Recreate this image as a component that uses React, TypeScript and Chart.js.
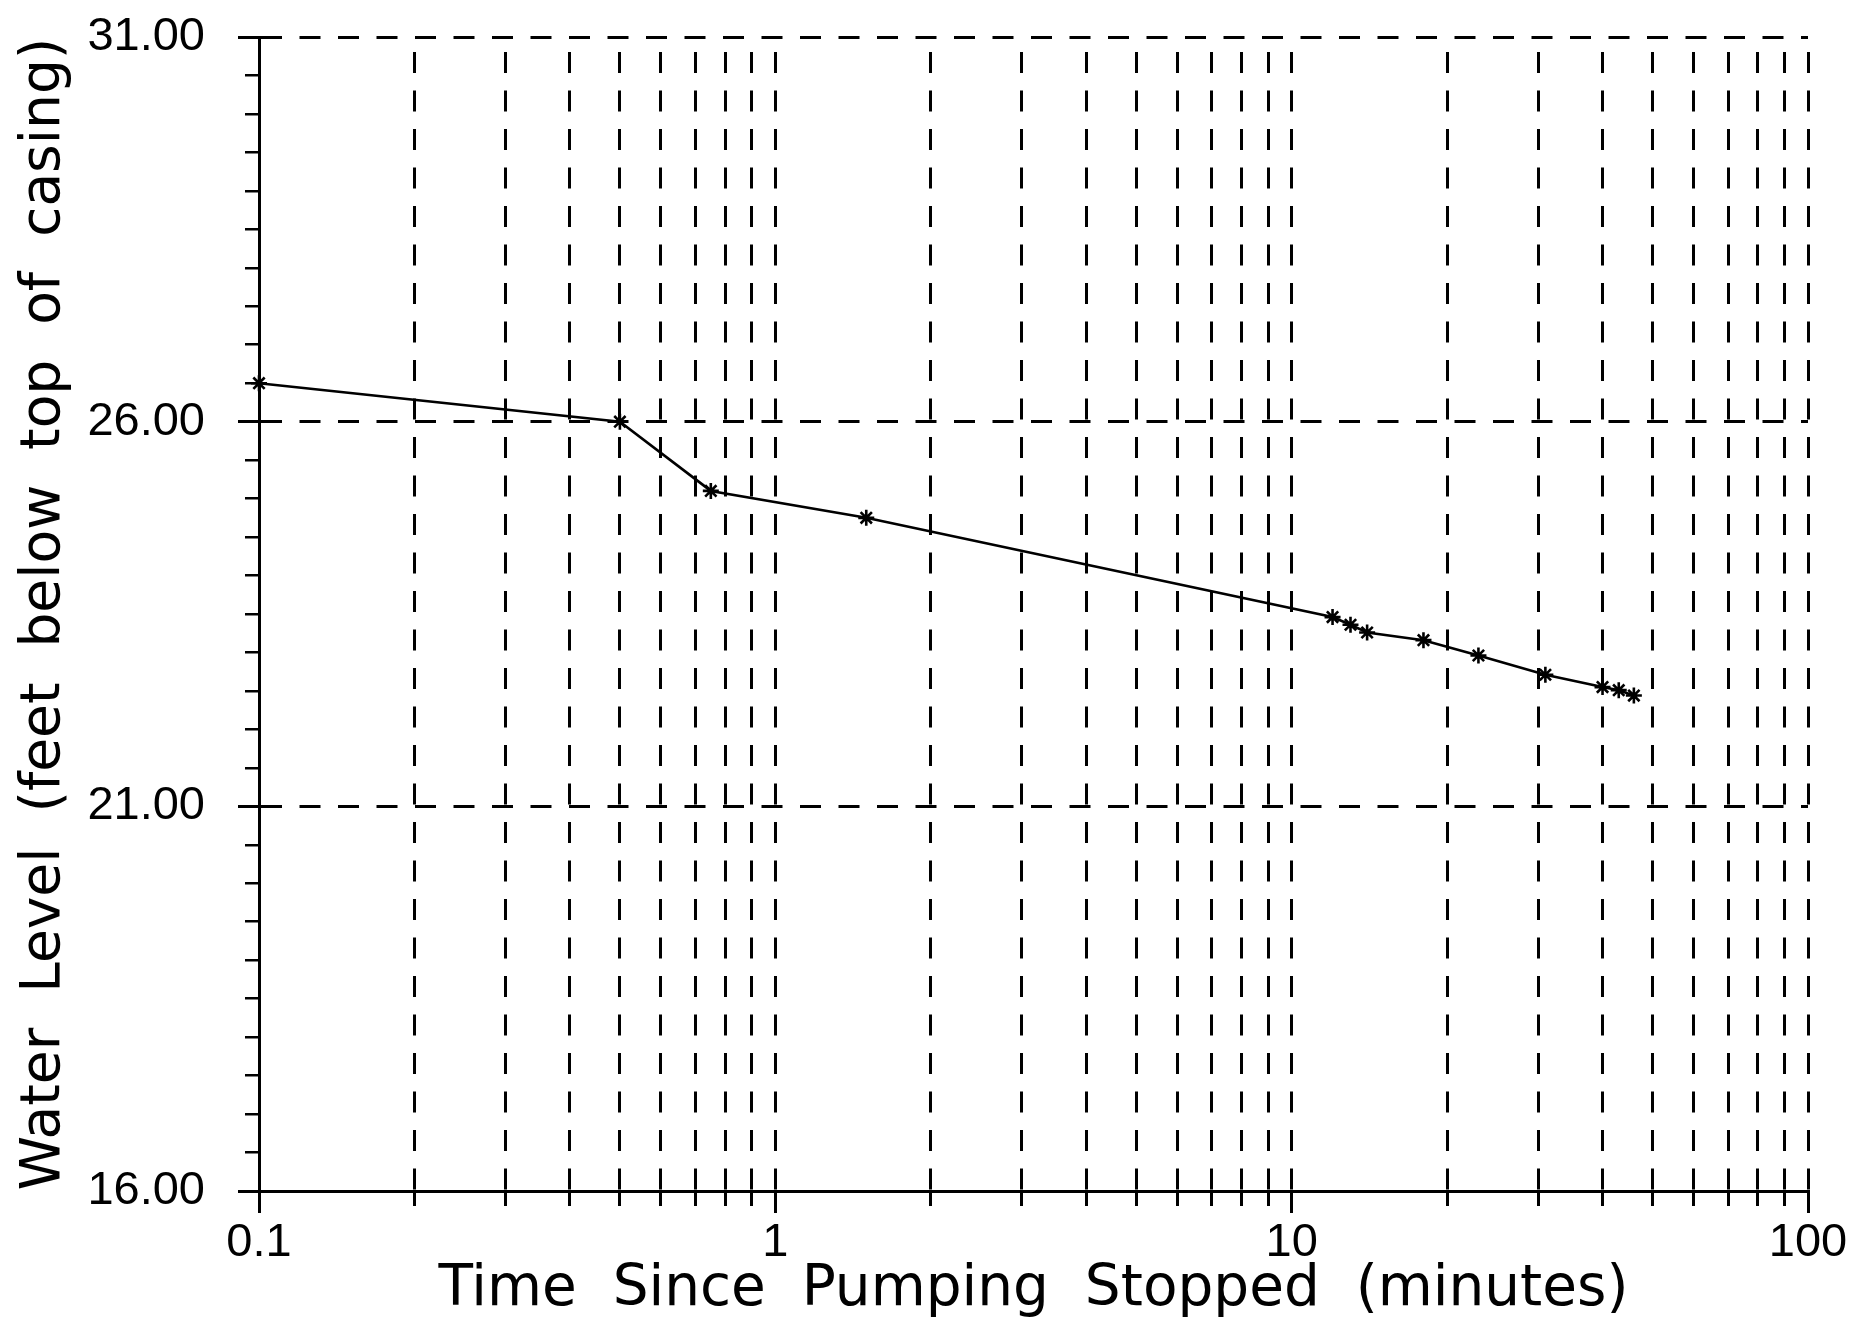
import React, { useEffect, useRef } from "react";
import { Chart, registerables } from "chart.js";

Chart.register(...registerables);

// ---- data ----
const TIME_MIN = [0.1, 0.5, 0.75, 1.5, 12, 13, 14, 18, 23, 31, 40, 43, 46];
const WATER_LEVEL = [26.5, 26.0, 25.1, 24.75, 23.46, 23.36, 23.26, 23.16, 22.96, 22.71, 22.55, 22.51, 22.44];

// ---- axes ----
const X_GRID_TICKS = [
  0.1, 0.2, 0.3, 0.4, 0.5, 0.6, 0.7, 0.8, 0.9,
  1, 2, 3, 4, 5, 6, 7, 8, 9,
  10, 20, 30, 40, 50, 60, 70, 80, 90,
  100,
];
const X_MAJOR_TICKS = [0.1, 1, 10, 100];
const X_MAJOR_LABELS = ["0.1", "1", "10", "100"];
const Y_MAJOR_TICKS = [16, 21, 26, 31];
const Y_MINOR_STEP = 0.5;
const X_MIN = 0.1;
const X_MAX = 100;
const Y_MIN = 16;
const Y_MAX = 31;
const X_TITLE = "Time  Since  Pumping  Stopped  (minutes)";
const Y_TITLE = "Water  Level  (feet  below  top  of  casing)";

// ---- layout / style ----
const W = 1865;
const H = 1321;
const AREA = { left: 259, top: 37, right: 1808, bottom: 1191 };
const DASH = [21, 17.5];
const INK = "#000";
const TICK_FONT = { family: "'Liberation Sans', Arial, sans-serif", size: 47 };
const X_TITLE_FONT = { family: "'DejaVu Sans', sans-serif", size: 56.5 };
const Y_TITLE_FONT = { family: "'DejaVu Sans', sans-serif", size: 55 };

export default function App() {
  const ref = useRef<HTMLCanvasElement | null>(null);

  useEffect(() => {
    if (!ref.current) return;
    const period = DASH[0] + DASH[1];
    const gridLen = AREA.bottom - AREA.top - 1.5;
    const vOffset = (((DASH[0] - gridLen) % period) + period) % period;

    const chart = new Chart(ref.current, {
      type: "line",
      data: {
        datasets: [
          {
            data: TIME_MIN.map((t, i) => ({ x: t, y: WATER_LEVEL[i] })),
            borderColor: INK,
            borderWidth: 2.6,
            tension: 0,
            fill: false,
            pointStyle: "star",
            pointRadius: 8,
            pointBorderWidth: 2.6,
            pointBorderColor: INK,
            pointBackgroundColor: INK,
            clip: false,
            xAxisID: "x",
            yAxisID: "y",
          } as any,
        ],
      },
      options: {
        responsive: false,
        animation: false,
        devicePixelRatio: 1,
        layout: {
          autoPadding: false,
          padding: { left: 0, top: AREA.top, right: W - AREA.right, bottom: 0 },
        } as any,
        plugins: {
          legend: { display: false },
          tooltip: { enabled: false },
        },
        scales: {
          x: {
            type: "logarithmic",
            position: "bottom",
            weight: 0,
            min: X_MIN,
            max: X_MAX,
            afterBuildTicks: (s: any) => {
              s.ticks = X_GRID_TICKS.map((v) => ({ value: v }));
            },
            afterFit: (s: any) => {
              s.height = 0;
              s.paddingLeft = 0;
              s.paddingRight = 0;
            },
            ticks: { display: false },
            grid: {
              color: INK,
              lineWidth: 3,
              tickLength: 15,
              tickWidth: 3,
              drawOnChartArea: true,
            },
            border: { display: true, color: INK, width: 3, dash: DASH, dashOffset: vOffset },
          } as any,
          xMajor: {
            type: "logarithmic",
            position: "bottom",
            weight: 1,
            min: X_MIN,
            max: X_MAX,
            afterBuildTicks: (s: any) => {
              s.ticks = X_MAJOR_TICKS.map((v) => ({ value: v }));
            },
            afterFit: (s: any) => {
              s.height = H - AREA.bottom;
              s.paddingLeft = 0;
              s.paddingRight = 0;
            },
            ticks: {
              color: INK,
              font: TICK_FONT,
              padding: 2,
              maxRotation: 0,
              minRotation: 0,
              autoSkip: false,
              callback: (_v: any, i: number) => X_MAJOR_LABELS[i],
            },
            grid: { drawOnChartArea: false, color: INK, lineWidth: 3, tickLength: 22 },
            border: { display: false },
            title: {
              display: true,
              text: X_TITLE,
              color: INK,
              font: X_TITLE_FONT,
              padding: { top: 0, bottom: -3 },
            },
          } as any,
          y: {
            type: "linear",
            position: "left",
            weight: 1,
            min: Y_MIN,
            max: Y_MAX,
            afterBuildTicks: (s: any) => {
              s.ticks = Y_MAJOR_TICKS.map((v) => ({ value: v }));
            },
            afterFit: (s: any) => {
              s.width = AREA.left;
              s.paddingTop = 0;
              s.paddingBottom = 0;
            },
            ticks: {
              color: INK,
              font: TICK_FONT,
              padding: 33,
              callback: (v: any) => Number(v).toFixed(2),
            },
            grid: { color: INK, lineWidth: 3, tickLength: 21 },
            border: { display: true, color: INK, width: 3, dash: DASH, dashOffset: 0 },
            title: {
              display: true,
              text: Y_TITLE,
              color: INK,
              font: Y_TITLE_FONT,
              padding: { top: 12, bottom: 0 },
            },
          } as any,
          yMinor: {
            type: "linear",
            position: "left",
            weight: 0,
            min: Y_MIN,
            max: Y_MAX,
            afterFit: (s: any) => {
              s.width = 0;
              s.paddingTop = 0;
              s.paddingBottom = 0;
            },
            ticks: { display: false, stepSize: Y_MINOR_STEP, maxTicksLimit: 1000 },
            grid: { drawOnChartArea: false, color: INK, lineWidth: 2.5, tickLength: 14 },
            border: { display: false },
          } as any,
        },
      },
    });
    return () => chart.destroy();
  }, []);

  return (
    <div style={{ position: "absolute", left: 0, top: 0, width: W, height: H, background: "#fff" }}>
      <canvas ref={ref} width={W} height={H} style={{ display: "block", width: W, height: H }} />
    </div>
  );
}
